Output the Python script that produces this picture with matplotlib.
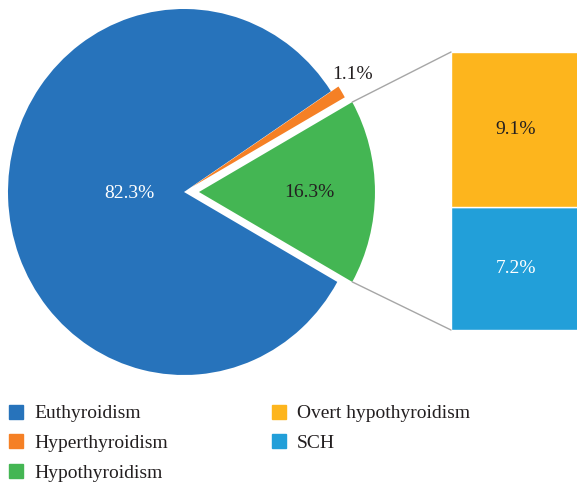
import numpy as np
import matplotlib
matplotlib.use("Agg")
import matplotlib.pyplot as plt
from matplotlib.patches import ConnectionPatch
from matplotlib.lines import Line2D

plt.rcParams['font.family'] = ['Liberation Serif', 'DejaVu Serif']

# data
pie_labels = ['Euthyroidism', 'Hyperthyroidism', 'Hypothyroidism']
pie_values = [82.3, 1.1, 16.3]
pie_colors = ['#2773BB', '#F58025', '#44B653']

sub_labels = ['Overt hypothyroidism', 'SCH']
sub_values = [9.1, 7.2]
sub_colors = ['#FDB51D', '#229FD9']

W, H = 577, 483
fig = plt.figure(figsize=(W / 100, H / 100), dpi=100)

# pie axes, placed in pixels: centre (184,192), rx 176, ry 183
cx, cy, rx, ry = 184, 192, 176, 183
xr, yr = 1.25, 1.1
ax = fig.add_axes([(cx - xr * rx) / W, (H - cy - yr * ry) / H,
                   2 * xr * rx / W, 2 * yr * ry / H])

total = sum(pie_values)
start = 360 - (pie_values[2] / total) * 180  # centre green wedge on 0 deg
wedges, _ = ax.pie(pie_values, colors=pie_colors, startangle=start,
                   counterclock=False, explode=[0, 0.05, 0.085],
                   wedgeprops=dict(linewidth=0))
ax.set_aspect('auto')
ax.set_xlim(-xr, xr)
ax.set_ylim(-yr, yr)
ax.axis('off')

dists = [0.31, 1.1, 0.63]
angle_nudge = [0, 2.5, 0]
tcols = ['white', '#231F20', '#231F20']
for w, v, d, dn, c in zip(wedges, pie_values, dists, angle_nudge, tcols):
    mid = np.deg2rad((w.theta1 + w.theta2) / 2 + dn)
    x0, y0 = w.center
    ax.text(x0 + d * np.cos(mid), y0 + d * np.sin(mid), f'{v}%',
            ha='center', va='center', color=c, fontsize=14)

# bar of the sub-categories
ax2 = fig.add_axes([451 / W, (H - 330) / H, 130 / W, 278 / H])
bottom = 0
for v, c, tc in zip(sub_values[::-1], sub_colors[::-1], ['white', '#231F20']):
    ax2.bar(0, v, bottom=bottom, width=1, color=c, edgecolor='white', linewidth=1)
    ax2.text(0, bottom + v / 2, f'{v}%', ha='center', va='center',
             color=tc, fontsize=14)
    bottom += v
ax2.set_xlim(-0.5, 0.5)
ax2.set_ylim(0, sum(sub_values))
ax2.axis('off')

# connector lines from green wedge to bar
g = wedges[2]
for ang, yb in [(g.theta2, sum(sub_values)), (g.theta1, 0)]:
    a = np.deg2rad(ang)
    p = (g.center[0] + g.r * np.cos(a), g.center[1] + g.r * np.sin(a))
    con = ConnectionPatch(xyA=p, coordsA=ax.transData, xyB=(-0.5, yb),
                          coordsB=ax2.transData, color='#A6A6A6', linewidth=1)
    fig.add_artist(con)

# legend
handles = [Line2D([], [], marker='s', linestyle='none', markersize=9.5,
                  markerfacecolor=c, markeredgecolor=c)
           for c in pie_colors + sub_colors]
fig.legend(handles, pie_labels + sub_labels, ncol=2, loc='upper left',
           bbox_to_anchor=(0.0, (H - 397) / H), frameon=False, fontsize=14,
           handlelength=0.8, handletextpad=0.55, columnspacing=5.3,
           labelspacing=0.62, labelcolor='#231F20', borderaxespad=0)

fig.savefig('out.png', dpi=100)
